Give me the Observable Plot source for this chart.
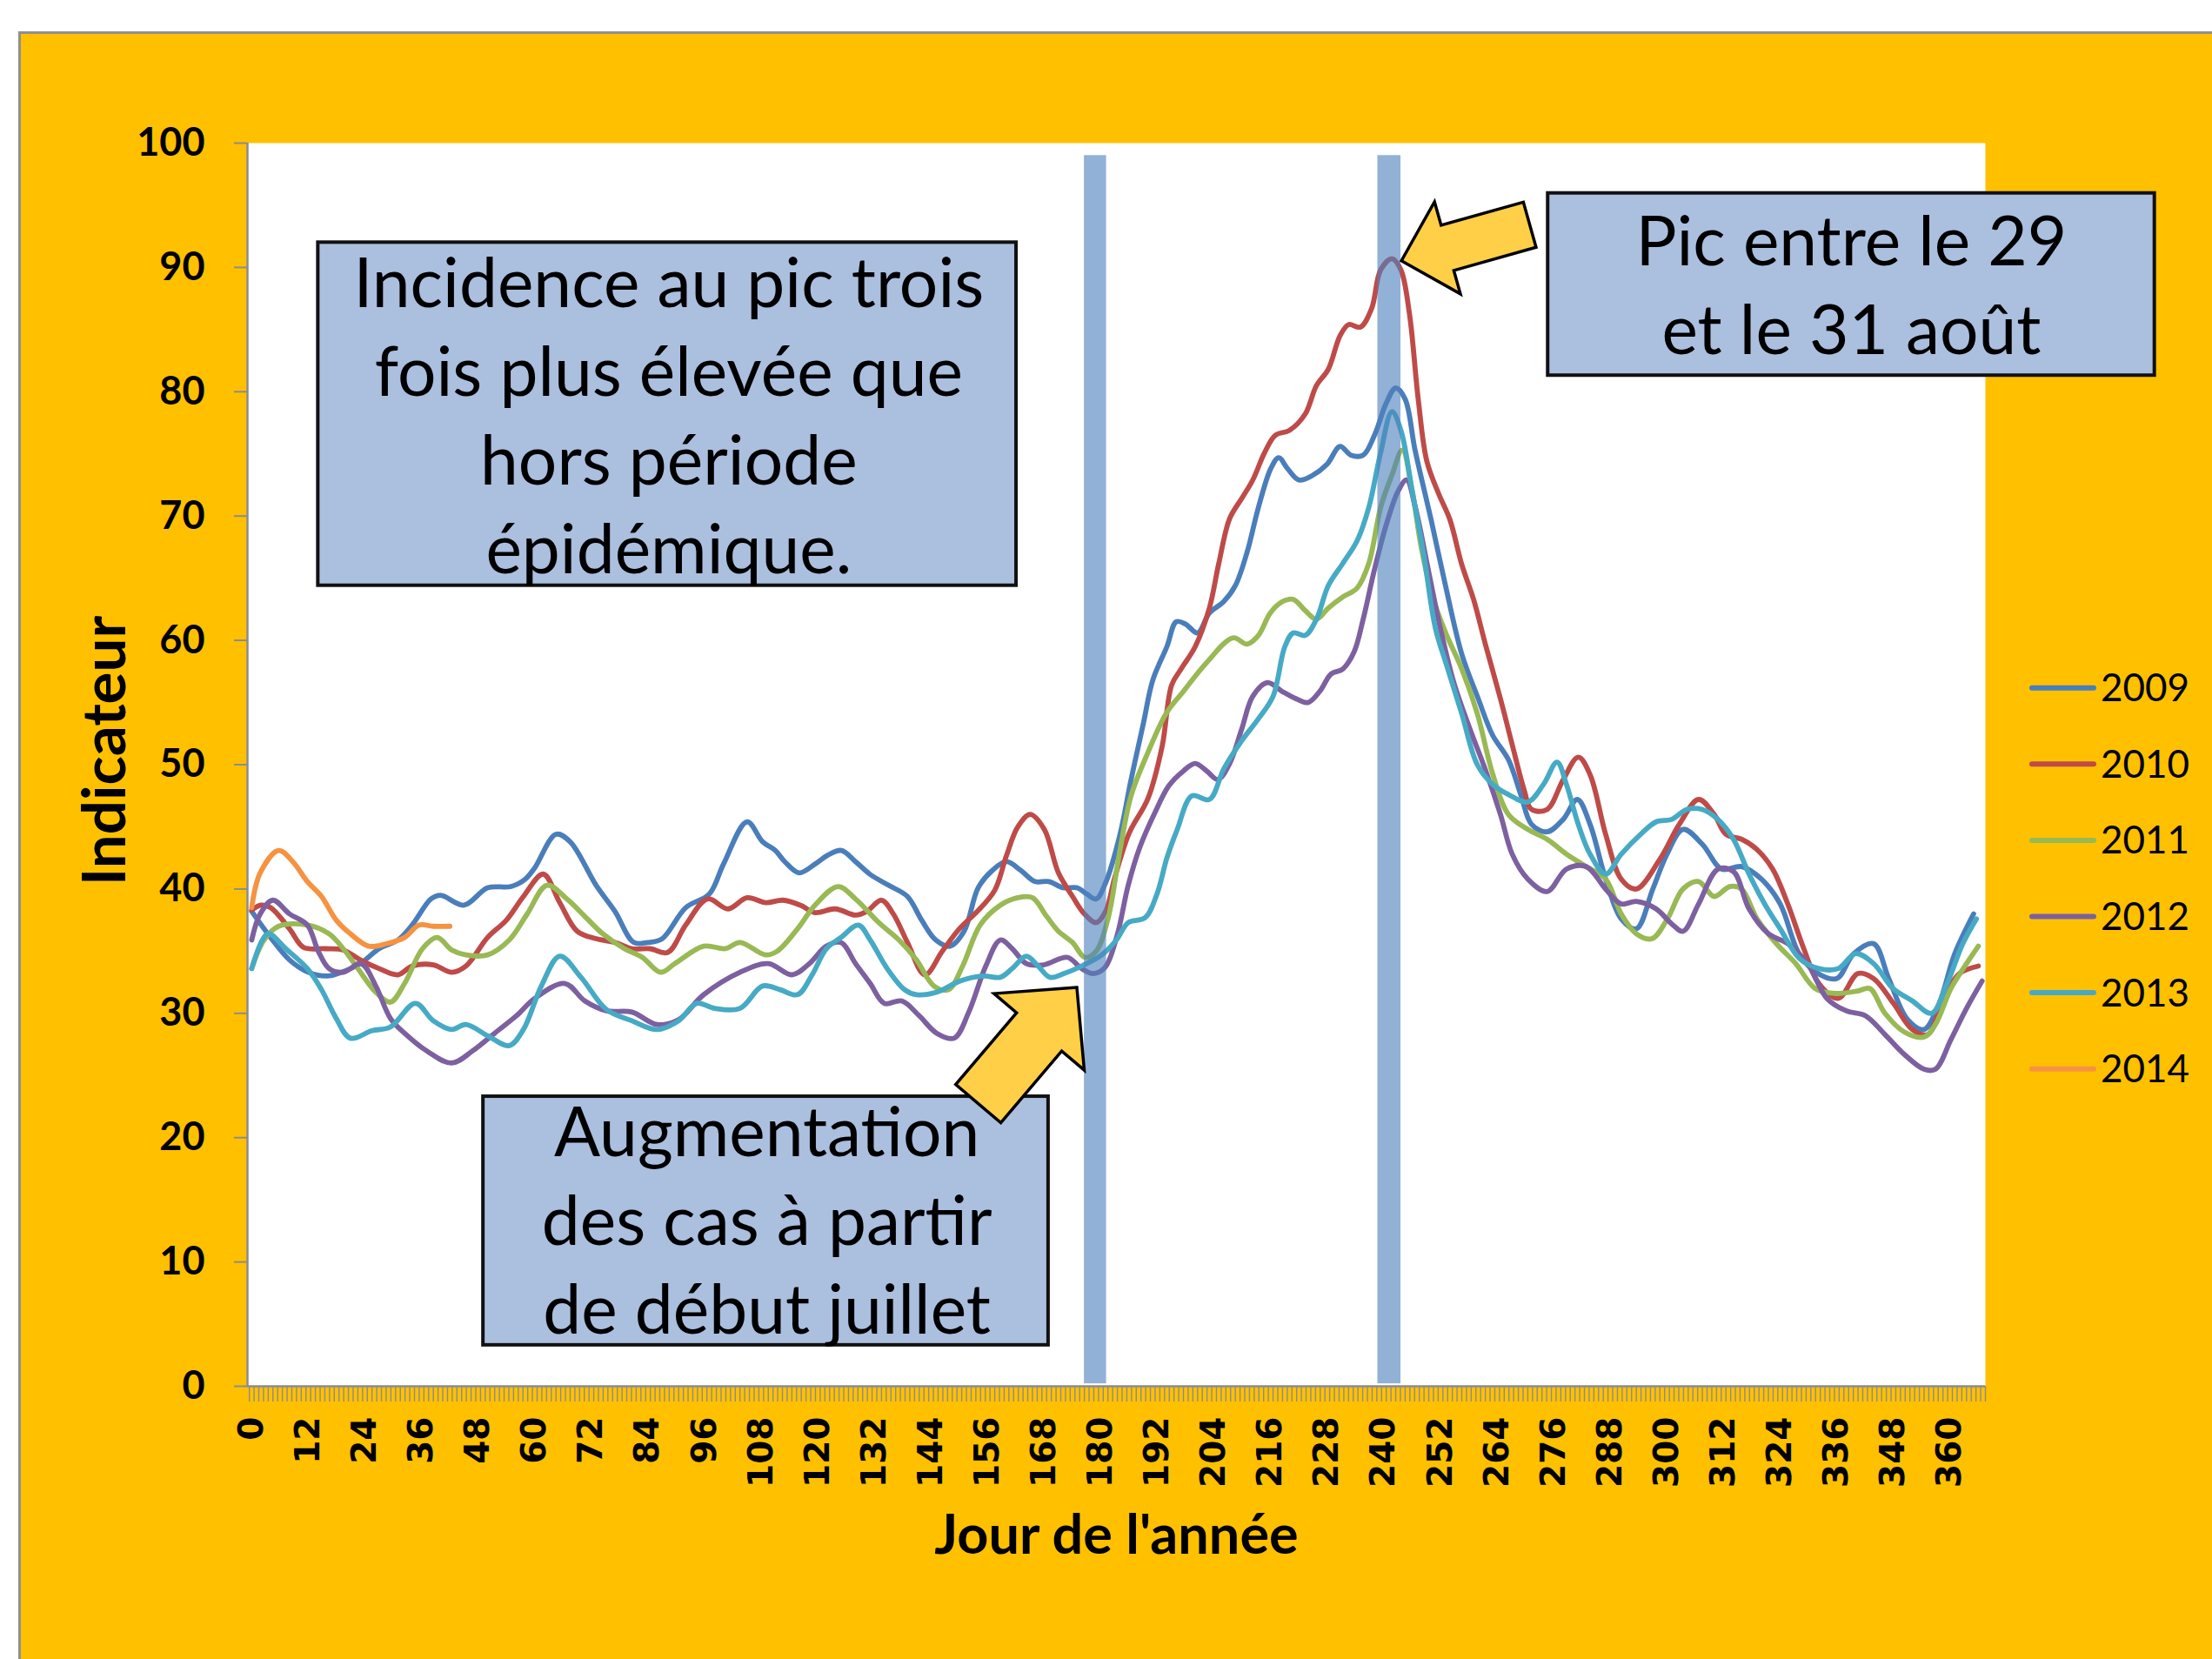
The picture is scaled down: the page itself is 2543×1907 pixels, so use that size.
<!DOCTYPE html>
<html>
<head>
<meta charset="utf-8">
<script src="https://cdn.jsdelivr.net/npm/d3@7"></script>
<script src="https://cdn.jsdelivr.net/npm/@observablehq/plot@0.6"></script>
<style>
  html, body { margin: 0; padding: 0; background: #ffffff; }
  #page { position: relative; width: 2543px; height: 1907px; overflow: hidden; }
  #panel { position: absolute; left: 21px; top: 36px; right: 0; bottom: 0; background: #FFC000;
           border-left: 3px solid #8f8f8f; border-top: 3px solid #8f8f8f; }
  #chart { position: absolute; left: 0; top: 0; }
  #legend { position: absolute; left: 0; top: 0; }
</style>
</head>
<body>
<div id="page">
  <div id="panel"></div>
  <div id="chart"></div>
  <svg id="legend" width="2543" height="1907"></svg>
</div>
<script>
// ---------------- data ----------------
const years = ["2009", "2010", "2011", "2012", "2013", "2014"];
const colors = ["#4A7EBB", "#BE4B48", "#98B954", "#7D60A0", "#46AAC5", "#F69240"];

const s2009 = [[0,38.2],[4,36.1],[8,34.3],[12,33.3],[16,33.0],[19,33.3],[23,34.0],[27,35.2],[31,35.9],[34,37.1],[38,39.2],[40,39.5],[45,38.7],[50,40.1],[55,40.2],[58,40.8],[60,41.7],[64.5,44.4],[67.5,43.8],[73,40.3],[77,38.2],[81,35.7],[84,35.7],[87,36.0],[92,38.5],[97,39.6],[100,42.0],[105,45.4],[108.3,43.8],[111,43.1],[113,42.2],[116,41.3],[119.4,42.0],[122,42.7],[125,43.1],[128,42.2],[131,41.2],[135,40.3],[139,39.4],[142,37.5],[145,35.9],[148,35.4],[151,36.6],[154,40.1],[157,41.5],[160,42.2],[163,41.5],[166,40.6],[169,40.6],[172,40.1],[175,40.1],[177,39.6],[179,39.2],[181,40.5],[184,44.3],[186.4,48.8],[189,53.3],[191,56.8],[194,59.5],[196,61.5],[198,61.3],[200.5,60.6],[203,62.2],[206,63.1],[208.5,64.4],[211,67.1],[213.4,70.7],[216,73.8],[217.7,74.7],[219.6,73.8],[222,72.9],[225,73.3],[228,74.2],[230.7,75.6],[233,74.9],[235.6,74.9],[238,76.5],[240.5,79.1],[242.5,80.3],[244.5,79.4],[246.6,75.3],[250,69.7],[253,64.5],[256.5,58.9],[260,55.3],[263,52.4],[266.4,50.4],[269,47.6],[271.3,45.2],[274.6,44.6],[278,45.6],[281,47.2],[283.7,45.2],[287,40.8],[290.3,37.6],[293.5,36.8],[297,40.0],[300,42.8],[303.4,44.8],[307.5,43.6],[311.6,41.6],[315.8,41.8],[320,40.8],[324,38.8],[328,34.8],[332,33.2],[336,32.8],[339.6,34.8],[343.8,35.6],[347,32.8],[351,29.5],[354.5,28.7],[357.7,30.8],[361,34.8],[365,38.0]];

const s2010 = [[0,38.3],[2,38.7],[4,38.5],[8,36.8],[11,35.3],[15.6,35.2],[19.4,35.1],[23,34.3],[27,33.6],[31,33.1],[34,33.8],[38.5,33.9],[42.4,33.3],[45.4,33.8],[50,36.1],[54,37.5],[57.6,39.4],[61.8,41.2],[65.3,38.9],[69,36.6],[73,36.0],[77,35.7],[80.6,35.2],[84.4,35.2],[88.2,34.9],[92,37.1],[96.6,39.2],[101,38.4],[105,39.3],[109,38.9],[112.6,39.1],[116.3,38.7],[119.4,38.1],[123.7,38.4],[128,37.9],[130.4,38.2],[133.5,39.1],[136,38.0],[139,35.7],[142.7,33.1],[146.4,35.0],[150,36.8],[153.8,38.2],[157.5,39.9],[160,42.7],[162.4,45.0],[165,46.0],[168,44.8],[171,41.3],[174,39.4],[176.5,38.0],[179,37.3],[181,38.2],[183,41.0],[186,44.5],[190,47.3],[193,51.5],[195,56.4],[197,57.7],[200,59.5],[203,62.6],[205,66.2],[207.3,69.8],[210,71.5],[212.2,72.9],[214.7,75.1],[217,76.5],[220,76.9],[223.3,78.2],[225.7,80.5],[228.2,81.8],[230.7,84.5],[232.5,85.4],[235,85.2],[237.4,86.7],[239.3,89.8],[241.7,90.7],[243.6,89.8],[245.4,86.3],[247.3,79.3],[249.1,74.4],[251.6,71.8],[254,69.7],[256.5,66.1],[259,63.3],[261.5,59.7],[264.7,55.3],[267.2,51.6],[269.7,48.0],[271.3,46.4],[274.6,46.4],[278,48.8],[281.2,50.6],[283.7,49.2],[287,44.4],[290.3,40.8],[293.5,40.0],[298.5,42.4],[302.6,45.2],[306.7,47.2],[310,46.0],[312.5,44.4],[315.8,44.0],[319,43.2],[322.4,41.6],[325.6,38.8],[329,35.2],[332.2,32.4],[336.3,31.2],[340.5,33.2],[343.8,32.8],[348,30.8],[352,28.7],[355.3,28.3],[358.6,31.2],[362,33.2],[366,33.8]];

const s2011 = [[0,33.6],[2.6,35.9],[5.7,37.0],[11.8,37.1],[16.4,36.4],[19.4,35.2],[22.5,33.6],[26.3,31.7],[29.4,30.9],[32.4,32.4],[36.2,35.2],[39.3,36.1],[42.4,35.1],[45.4,34.7],[50,34.7],[54.6,35.9],[58.4,38.0],[62.6,40.3],[66.8,39.2],[70.6,37.8],[74.4,36.4],[79,35.2],[82.8,34.5],[86.7,33.3],[89.7,34.0],[95.8,35.4],[100.4,35.2],[103.5,35.7],[108.9,34.7],[111.4,35.0],[115.7,36.8],[119.4,38.7],[124.3,40.2],[128,39.2],[132.9,37.3],[137.2,35.9],[140.9,34.3],[144.6,32.2],[147.7,31.9],[150.7,33.8],[154.4,37.1],[158.7,38.7],[162.4,39.3],[165.5,39.3],[168.5,37.8],[171,36.6],[174,35.7],[176.6,34.5],[179,35.0],[181.5,37.6],[184,43.0],[186.4,47.5],[190,51.0],[193.8,54.1],[197.5,55.9],[202.4,58.2],[208,60.2],[211,59.7],[213.4,60.4],[215.9,62.2],[218.4,63.1],[220.8,63.3],[223.3,62.4],[225.7,61.7],[228.2,62.6],[231.3,63.5],[234.3,64.2],[236.8,66.2],[239.3,70.7],[241.7,73.3],[243.9,75.3],[246,72.0],[247.9,67.5],[250.3,63.5],[253.2,60.5],[256.5,57.7],[259.8,54.1],[263.1,49.2],[266.4,46.0],[270.5,44.8],[274.6,44.0],[278.7,42.8],[282.9,41.8],[287,40.8],[290.3,38.0],[293.5,36.4],[296.8,36.0],[300.1,37.6],[303.4,40.0],[306.7,40.6],[310,39.4],[313.3,40.2],[315.8,40.0],[319.1,37.6],[323.2,35.6],[327.3,34.0],[331.4,32.0],[335.5,31.6],[340.5,31.8],[343,32.0],[346.2,30.0],[350.3,28.5],[354.5,28.1],[356.9,29.1],[360.2,32.0],[363.5,34.0],[366,35.4]];

const s2012 = [[0,35.9],[1.8,38.0],[4.5,39.1],[8,38.0],[11.8,37.1],[14.1,35.0],[16.4,33.6],[19.4,33.3],[23.2,34.0],[26.3,32.2],[29.4,29.6],[32.4,28.4],[37,27.0],[42.4,26.0],[46.9,27.0],[51.5,28.4],[56.1,29.8],[60,31.2],[66.4,32.4],[70.6,31.0],[75.2,30.2],[80.6,30.1],[85.9,29.1],[90.5,29.5],[95.8,31.5],[103.5,33.3],[109.5,34.0],[114.5,33.1],[118.2,34.0],[121.8,35.4],[124.9,35.7],[128,34.0],[131.1,32.4],[134.1,30.8],[137.8,31.0],[141.5,29.8],[145.2,28.4],[148.9,28.0],[152,30.1],[155.6,33.8],[158.7,35.9],[161.2,35.2],[164.2,34.0],[167.9,33.9],[172.9,34.5],[175.9,33.6],[178.4,33.2],[180.9,33.7],[183.4,36.2],[185.8,40.3],[188.3,43.4],[191.4,46.1],[194.4,48.3],[197.5,49.5],[200,50.1],[202.4,49.5],[204.8,48.8],[207.3,50.1],[209.8,52.8],[212.2,55.5],[215.3,56.6],[218.4,55.9],[221.4,55.3],[223.9,55.0],[226.4,55.9],[228.8,57.3],[231.3,57.7],[233.7,59.1],[235.6,61.7],[238,65.7],[240.5,69.3],[243,72.0],[244.8,72.9],[246.6,70.8],[249.5,65.5],[252,60.9],[254.9,56.5],[258.2,52.9],[261.5,49.6],[264.7,46.0],[267.2,42.8],[270.5,40.8],[274.6,39.8],[278.7,41.6],[282.9,41.8],[287,40.0],[290.3,38.8],[293.5,39.0],[297.7,38.4],[301,37.2],[303.4,36.6],[306.7,38.8],[310.8,41.6],[314.1,41.4],[317.4,38.4],[321.5,36.4],[325.6,35.6],[329.8,34.0],[333.9,31.2],[338,30.2],[342.1,29.8],[346.2,28.3],[350.3,26.7],[354.5,25.5],[356.9,25.5],[360.2,27.9],[363.5,30.4],[366.8,32.6]];

const s2013 = [[0,33.6],[3.4,36.4],[7.2,35.2],[11.8,33.6],[14.8,31.9],[17.9,29.6],[20.9,28.0],[25.5,28.6],[29.4,28.9],[34.7,30.8],[38.5,29.4],[42.4,28.7],[45.4,29.1],[50,28.2],[54.6,27.4],[57.6,28.7],[61.4,32.2],[65.3,34.6],[69.8,32.9],[75.2,30.3],[80.6,29.4],[85.9,28.7],[90.5,29.4],[94.3,30.8],[98.1,30.4],[103.5,30.4],[108.3,32.2],[112,31.9],[115.7,31.5],[118.8,33.1],[121.8,35.2],[124.9,36.1],[128.6,37.1],[131.1,35.9],[134.7,33.6],[138.4,31.9],[140.9,31.5],[145.2,31.7],[150.1,32.6],[155,33.0],[158.7,32.9],[161.2,33.6],[164.2,34.6],[166.7,33.8],[169.2,32.9],[172.2,33.2],[175.9,33.8],[180.2,34.7],[183.3,35.9],[185.8,37.3],[189.4,37.7],[191.9,39.6],[194,42.5],[196.2,44.8],[199.3,47.5],[203,47.2],[206.1,49.7],[209.8,51.9],[213.4,53.7],[216.5,55.5],[219,59.5],[220.8,60.6],[223.3,60.4],[225.7,61.7],[228.2,64.4],[231.3,66.2],[234.3,68.0],[236.8,70.7],[239.3,75.1],[241.7,78.4],[243.6,76.9],[246,72.0],[248.4,67.0],[250.9,61.0],[253.2,58.1],[256.5,54.1],[259.8,50.0],[263.1,48.4],[266.4,47.6],[270.5,47.0],[273.8,48.4],[276.7,50.2],[278.7,48.4],[281.2,45.2],[283.7,42.8],[287,41.2],[290.3,42.8],[294.4,44.4],[297.7,45.4],[301,45.6],[304.2,46.4],[307.5,46.4],[310.8,45.6],[314.1,44.0],[317.4,41.2],[320.7,38.8],[324,36.8],[328.1,34.4],[332.2,33.6],[336.3,33.6],[340,34.8],[343.8,34.0],[347.9,32.0],[352,31.0],[356.1,30.0],[359.4,32.4],[362.7,35.6],[365.6,37.6]];

const s2014 = [[0,38.5],[1.8,41.3],[5.7,43.1],[8.7,42.2],[11.8,40.6],[14.8,39.4],[17.9,37.5],[20.9,36.4],[24.8,35.4],[28.6,35.6],[32.4,36.1],[35.5,37.1],[38.5,37.0],[42,37.0]];

const seriesList = [s2009, s2010, s2011, s2012, s2013, s2014];

const yTicks = [0, 10, 20, 30, 40, 50, 60, 70, 80, 90, 100];
const xLabelTicks = [0,12,24,36,48,60,72,84,96,108,120,132,144,156,168,180,192,204,216,228,240,252,264,276,288,300,312,324,336,348,360];

// shaded vertical bands (start of rise, peak)
const bandStart = [176.5, 238.7];
const bandEnd = [181.2, 243.6];

// annotation boxes
const boxText = [
  "Incidence au pic trois\nfois plus élevée que\nhors période\népidémique.",
  "Augmentation\ndes cas à partir\nde début juillet",
  "Pic entre le 29\net le 31 août"
];

// ---------------- layout / style ----------------
const xDomain = [-0.9, 367.5];
const minorTicks = d3.range(-0.5, 368, 1);
const bandRange = [0.2, 99];
const boxGeom = [
  {x1: 14.1, x2: 162.1, y1: 64.4, y2: 92.0, cx: 88.4, yLast: 65.43},
  {x1: 49.1, x2: 168.9, y1: 3.3, y2: 23.3, cx: 109.2, yLast: 4.2},
  {x1: 274.8, x2: 403.4, y1: 81.3, y2: 95.96, cx: 339.1, yLast: 83.0}
];
const arrowGeom = [
  {tip: [175.0, 32.05], tail: [154.1, 22.7], head: 67, headHalf: 68, shaftHalf: 34},
  {tip: [243.8, 90.5], tail: [271.0, 93.4], head: 55, headHalf: 55, shaftHalf: 27}
];
const boxFontSize = 78.5;
const boxLineSpacing = 102;

const rows = years.flatMap((yr, i) => seriesList[i].map(([d, v]) => ({year: yr, day: d, value: v})));
const bands = bandStart.map((s, i) => ({x1: s, x2: bandEnd[i], y1: bandRange[0], y2: bandRange[1]}));
const boxes = boxGeom.map((g, i) => ({...g, text: boxText[i]}));

function arrowMark(a) {
  return (index, scales) => {
    const T = [scales.x(a.tip[0]), scales.y(a.tip[1])];
    const C = [scales.x(a.tail[0]), scales.y(a.tail[1])];
    const dx = C[0] - T[0], dy = C[1] - T[1];
    const L = Math.hypot(dx, dy);
    const u = [dx / L, dy / L];
    const n = [-u[1], u[0]];
    const H = [T[0] + u[0] * a.head, T[1] + u[1] * a.head];
    const p = (base, s) => [base[0] + n[0] * s, base[1] + n[1] * s];
    const pts = [T, p(H, a.headHalf), p(H, a.shaftHalf), p(C, a.shaftHalf), p(C, -a.shaftHalf), p(H, -a.shaftHalf), p(H, -a.headHalf)];
    const g = d3.create("svg:g");
    g.append("path")
      .attr("d", "M" + pts.map(q => q.join(",")).join("L") + "Z")
      .attr("fill", "#FFCF48")
      .attr("stroke", "#000")
      .attr("stroke-width", 3.5)
      .attr("stroke-linejoin", "miter");
    return g.node();
  };
}

const chart = Plot.plot({
  width: 2543,
  height: 1907,
  marginLeft: 284,
  marginRight: 261,
  marginTop: 164,
  marginBottom: 314,
  x: {domain: xDomain},
  y: {domain: [0, 100]},
  color: {domain: years, range: colors},
  style: {background: "transparent", fontFamily: "Lato", overflow: "visible"},
  marks: [
    Plot.frame({fill: "white"}),
    Plot.lineY(rows, {x: "day", y: "value", z: "year", stroke: "year", strokeWidth: 5.8,
      curve: "catmull-rom", strokeLinecap: "round", strokeLinejoin: "round"}),
    Plot.rect(bands, {x1: "x1", x2: "x2", y1: "y1", y2: "y2", fill: "#4F81BD", fillOpacity: 0.62}),
    // axes
    Plot.axisX({ticks: minorTicks, tickSize: 18, tickFormat: () => "", stroke: "#8c8c8c", strokeWidth: 1.4, label: null}),
    Plot.axisY({ticks: yTicks, tickSize: 15, tickFormat: () => "", stroke: "#8c8c8c", strokeWidth: 2, label: null}),
    Plot.ruleY([0], {stroke: "#8c8c8c", strokeWidth: 2.5}),
    Plot.ruleX([xDomain[0]], {stroke: "#8c8c8c", strokeWidth: 2.5}),
    Plot.text(xLabelTicks, {x: d => d, text: d => String(d), frameAnchor: "bottom", dy: 35, rotate: -90,
      textAnchor: "end", lineAnchor: "middle", fontFamily: "DejaVu Sans", fontWeight: "bold", fontSize: 39, fill: "#000"}),
    Plot.text(yTicks, {y: d => d, text: d => String(d), frameAnchor: "left", dx: -49, textAnchor: "end",
      lineAnchor: "middle", fontFamily: "Lato", fontWeight: "bold", fontSize: 45, fill: "#000"}),
    Plot.text(["Indicateur"], {text: d => d, frameAnchor: "left", dx: -163, dy: -16, rotate: -90,
      lineAnchor: "middle", textAnchor: "middle", fontFamily: "Lato", fontWeight: "bold", fontSize: 69, fill: "#000"}),
    Plot.text(["Jour de l'année"], {text: d => d, frameAnchor: "bottom", dy: 192, lineAnchor: "bottom",
      textAnchor: "middle", fontFamily: "Lato", fontWeight: "bold", fontSize: 63, fill: "#000"}),
    // annotations
    Plot.rect(boxes, {x1: "x1", x2: "x2", y1: "y1", y2: "y2", fill: "#ABBFDF", stroke: "#111", strokeWidth: 4}),
    Plot.text(boxes, {x: "cx", y: "yLast", text: "text", lineAnchor: "bottom", textAnchor: "middle",
      lineHeight: boxLineSpacing / boxFontSize, fontFamily: "Lato", fontSize: boxFontSize, fill: "#000"}),
    arrowMark(arrowGeom[0]),
    arrowMark(arrowGeom[1])
  ]
});
document.getElementById("chart").appendChild(chart);

// legend
const legendTop = 790.7, legendStep = 87.6;
const lg = d3.select("#legend");
years.forEach((yr, i) => {
  const y = legendTop + i * legendStep;
  lg.append("line").attr("x1", 2336).attr("x2", 2407).attr("y1", y).attr("y2", y)
    .attr("stroke", colors[i]).attr("stroke-width", 6).attr("stroke-linecap", "round");
  lg.append("text").attr("x", 2415).attr("y", y + 15.5).text(yr)
    .attr("font-family", "Lato").attr("font-size", 44).attr("fill", "#000");
});
</script>
</body>
</html>
